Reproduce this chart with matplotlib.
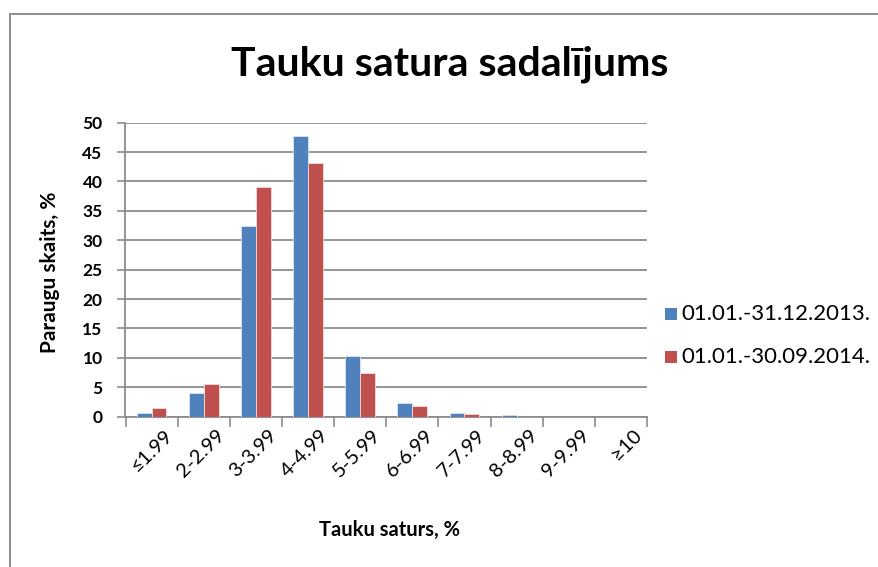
import matplotlib
matplotlib.use("Agg")
import matplotlib.pyplot as plt
from matplotlib.lines import Line2D
from matplotlib.patches import Rectangle
import matplotlib.transforms as mtransforms
import numpy as np

categories = ["≤1.99", "2-2.99", "3-3.99", "4-4.99", "5-5.99", "6-6.99",
              "7-7.99", "8-8.99", "9-9.99", "≥10"]
series_2013 = [0.7, 4.1, 32.4, 47.8, 10.3, 2.4, 0.7, 0.3, 0.0, 0.0]
series_2014 = [1.5, 5.6, 39.0, 43.1, 7.5, 1.8, 0.45, 0.0, 0.0, 0.0]
labels = ["01.01.-31.12.2013.", "01.01.-30.09.2014."]
colors = ["#4F81BD", "#C0504D"]
yticks = list(range(0, 51, 5))

plt.rcParams['font.family'] = ['Lato', 'DejaVu Sans']

W, H = 879, 567
fig = plt.figure(figsize=(W / 100, H / 100), dpi=100)
fig.patch.set_facecolor("white")

def fx(px):
    return px / W

def fy(py):
    return 1 - py / H

ax = fig.add_axes([fx(125.5), fy(416.7), fx(647) - fx(125.5), fy(122.7) - fy(416.7)])

x = np.arange(len(categories))
bw = 1 / 3.5
ax.bar(x - bw / 2, series_2013, width=bw, color=colors[0], edgecolor="#DCE6F2",
       linewidth=0.6, zorder=3, label=labels[0])
ax.bar(x + bw / 2, series_2014, width=bw, color=colors[1], edgecolor="#F2DCDB",
       linewidth=0.6, zorder=3, label=labels[1])

ax.set_xlim(-0.5, len(categories) - 0.5)
ax.set_ylim(0, 50)
ax.set_yticks(yticks)
ax.set_yticklabels([str(v) for v in yticks], fontsize=12.5, fontweight="bold", color="#000000")
ax.grid(axis="y", color="#8C8C8C", linewidth=1.3, zorder=0)
ax.set_axisbelow(True)

ax.set_xticks(np.arange(-0.5, len(categories) + 0.5, 1))
ax.set_xticklabels([])
ax.set_xticks(x, minor=True)
ax.set_xticklabels(categories, minor=True, rotation=45, ha="right", va="top",
                   rotation_mode="anchor", fontsize=14.5, color="#000000")
ax.tick_params(axis="x", which="minor", length=0, pad=7)
ax.tick_params(axis="x", which="major", length=7, width=1.2, color="#8C8C8C", direction="out")
ax.tick_params(axis="y", length=6, width=1.2, color="#8C8C8C", direction="out", pad=10.5)

shift = mtransforms.ScaledTranslation(12 / 100, 0, fig.dpi_scale_trans)
for lab in ax.get_xticklabels(minor=True):
    lab.set_transform(lab.get_transform() + shift)

for s in ["top", "right"]:
    ax.spines[s].set_visible(False)
for s in ["left", "bottom"]:
    ax.spines[s].set_color("#8C8C8C")
    ax.spines[s].set_linewidth(1.3)

fig.text(fx(450), fy(64), "Tauku satura sadalījums", ha="center", va="center",
         fontsize=29.5, fontweight="bold", color="#000000")
fig.text(fx(50), fy(272), "Paraugu skaits, %", rotation=90, ha="center", va="center",
         fontsize=15, fontweight="bold", color="#000000")
fig.text(fx(390), fy(530), "Tauku saturs, %", ha="center", va="center",
         fontsize=14.5, fontweight="bold", color="#000000")

# legend drawn manually
leg_y = [314, 357]
for i in range(2):
    fig.patches.append(Rectangle((fx(665), fy(leg_y[i] + 6)), fx(12), fy(0) - fy(12),
                                 transform=fig.transFigure, facecolor=colors[i],
                                 edgecolor="none"))
    fig.text(fx(681), fy(leg_y[i]), labels[i], ha="left", va="center",
             fontsize=16, color="#000000")

# chart-area frame (top and left edges visible)
fig.add_artist(Line2D([fx(9.5), fx(9.5)], [fy(13.5), 0], transform=fig.transFigure,
                      color="#8C8C8C", linewidth=1.4))
fig.add_artist(Line2D([fx(9.5), 1], [fy(13.5), fy(13.5)], transform=fig.transFigure,
                      color="#8C8C8C", linewidth=1.4))

fig.savefig("out.png", dpi=100, facecolor="white")
